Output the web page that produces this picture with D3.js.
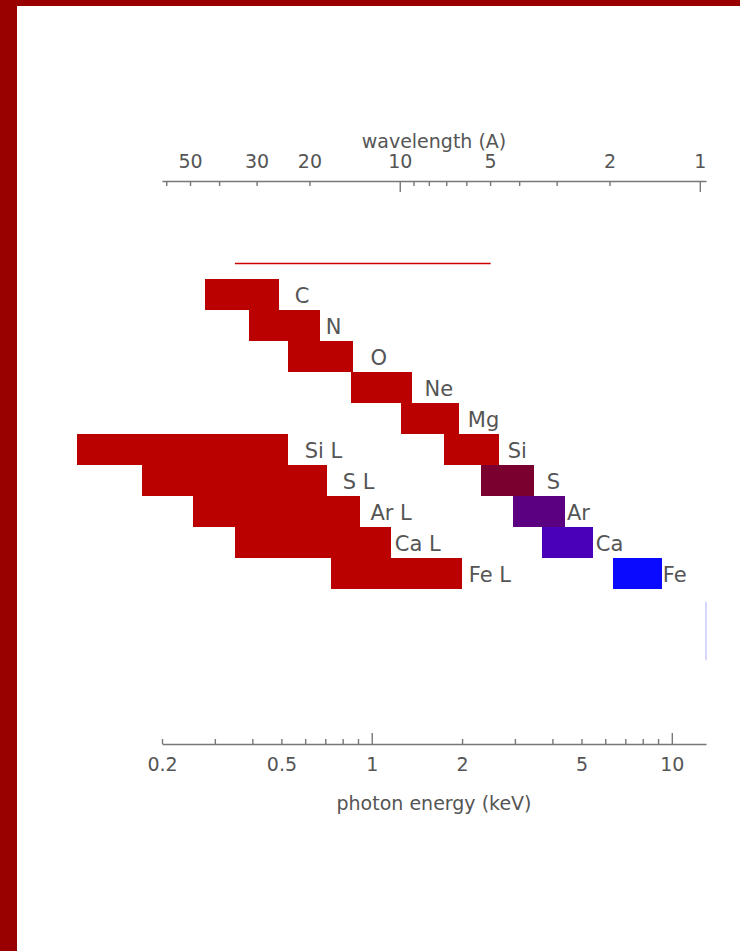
<!DOCTYPE html>
<html>
<head>
<meta charset="utf-8">
<script src="https://cdn.jsdelivr.net/npm/d3@7"></script>
<style>
  html, body { margin: 0; padding: 0; background: #fff; }
  svg { display: block; }
  text { font-family: "DejaVu Sans", sans-serif; fill: #555; }
</style>
</head>
<body>
<svg id="chart" width="740" height="951"></svg>
<script>
// K-shell lines (energy band in keV, one row each)
const kLines  = ['C', 'N', 'O', 'Ne', 'Mg', 'Si', 'S', 'Ar', 'Ca', 'Fe'];
const kRow    = [0, 1, 2, 3, 4, 5, 6, 7, 8, 9];
const kLow    = [0.278, 0.389, 0.525, 0.851, 1.25, 1.74, 2.31, 2.95, 3.69, 6.36];
const kHigh   = [0.490, 0.671, 0.864, 1.36, 1.95, 2.65, 3.47, 4.40, 5.45, 9.26];
const kLabelE = [0.554, 0.703, 0.99, 1.50, 2.09, 2.84, 3.83, 4.47, 5.58, 9.33];

// L-shell lines
const lLines  = ['Si L', 'S L', 'Ar L', 'Ca L', 'Fe L'];
const lRow    = [5, 6, 7, 8, 9];
const lLow    = [0.104, 0.171, 0.253, 0.350, 0.730];
const lHigh   = [0.525, 0.708, 0.912, 1.157, 1.995];
const lLabelE = [0.598, 0.80, 0.99, 1.193, 2.105];

// thin range line above the bars (keV)
const rangeLine = [0.35, 2.49];

// axes
const energyTicks  = [0.2, 0.3, 0.4, 0.5, 0.6, 0.7, 0.8, 0.9, 1, 2, 3, 4, 5, 6, 7, 8, 9, 10];
const energyLabels = [0.2, 0.5, 1, 2, 5, 10];
const energyMajor  = [1, 10];
const waveTicks  = [60, 50, 40, 30, 20, 10, 9, 8, 7, 6, 5, 4, 3, 2, 1];
const waveLabels = [50, 30, 20, 10, 5, 2, 1];
const waveMajor  = [10, 1];
const hc = 12.398; // keV * A

const redFill = '#bb0000';
const kFill = ['#bb0000', '#bb0000', '#bb0000', '#bb0000', '#bb0000',
               '#bb0000', '#7a0030', '#5a0080', '#4a00b8', '#0a0aff'];

var svg = d3.select('#chart');

// frame
svg.append('rect').attr('x', 0).attr('y', 0).attr('width', 740).attr('height', 6).attr('fill', '#990000');
svg.append('rect').attr('x', 0).attr('y', 0).attr('width', 17).attr('height', 951).attr('fill', '#990000');

var xScale = d3.scaleLog([0.2, 13], [162, 706]);
var yScale = d3.scaleLinear([0, 10], [279, 589]);

var rowTop = function(r) { return yScale(r); },
    rowH = function(r) { return yScale(r + 1) - yScale(r); };

var kData = kLines.map(function(n, i) {
  return { name: n, row: kRow[i], lo: kLow[i], hi: kHigh[i], lab: kLabelE[i], fill: kFill[i] };
});
var lData = lLines.map(function(n, i) {
  return { name: n, row: lRow[i], lo: lLow[i], hi: lHigh[i], lab: lLabelE[i], fill: redFill };
});
var all = lData.concat(kData);

svg.append('g')
    .selectAll('rect')
    .data(all)
    .enter()
    .append('rect')
    .attr('x', function(d) { return xScale(d.lo); })
    .attr('width', function(d) { return xScale(d.hi) - xScale(d.lo); })
    .attr('y', function(d) { return rowTop(d.row); })
    .attr('height', function(d) { return rowH(d.row); })
    .attr('fill', function(d) { return d.fill; })
    .attr('shape-rendering', 'crispEdges');

svg.append('g')
    .selectAll('text')
    .data(all)
    .enter()
    .append('text')
    .attr('x', function(d) { return xScale(d.lab); })
    .attr('y', function(d) { return rowTop(d.row) + rowH(d.row) / 2 + 1; })
    .attr('dy', '0.35em')
    .style('font-size', '21px')
    .text(function(d) { return d.name; });

svg.append('line')
    .attr('x1', xScale(rangeLine[0]))
    .attr('x2', xScale(rangeLine[1]))
    .attr('y1', yScale(-0.5))
    .attr('y2', yScale(-0.5))
    .attr('stroke', '#cc0000')
    .attr('stroke-width', 1.5);

// faint mark at the right edge
svg.append('line')
    .attr('x1', xScale.range()[1])
    .attr('x2', xScale.range()[1])
    .attr('y1', yScale(10.42))
    .attr('y2', yScale(12.3))
    .attr('stroke', '#c8c8ff')
    .attr('stroke-width', 1.5);

var styleTicks = function(g, isMajor) {
  g.select('.domain').attr('stroke', '#777').attr('stroke-width', 1.6);
  g.selectAll('.tick line')
      .attr('stroke', '#777')
      .attr('stroke-width', 1.4)
      .attr('y2', isMajor);
  g.selectAll('.tick text')
      .style('font-size', '19px')
      .attr('fill', '#555')
      .style('font-family', '"DejaVu Sans", sans-serif');
};

// bottom axis: photon energy
var bottomAxis = svg.append('g')
    .attr('transform', 'translate(0,744)')
    .call(d3.axisBottom(xScale)
              .tickValues(energyTicks)
              .tickSizeOuter(0)
              .tickSizeInner(-5)
              .tickPadding(14)
              .tickFormat(function(d) { return energyLabels.indexOf(d) >= 0 ? d3.format('')(d) : ''; }));
styleTicks(bottomAxis, function(d) { return energyMajor.indexOf(d) >= 0 ? -11 : -5; });

// top axis: wavelength
var waveE = waveTicks.map(function(w) { return hc / w; });
var topAxis = svg.append('g')
    .attr('transform', 'translate(0,181)')
    .call(d3.axisTop(xScale)
              .tickValues(waveE)
              .tickSizeOuter(0)
              .tickSizeInner(-5)
              .tickPadding(13)
              .tickFormat(function(e) {
                var w = Math.round(hc / e);
                return waveLabels.indexOf(w) >= 0 ? String(w) : '';
              }));
styleTicks(topAxis, function(e) { return waveMajor.indexOf(Math.round(hc / e)) >= 0 ? 11 : 5; });

var mid = (xScale.range()[0] + xScale.range()[1]) / 2;
svg.append('text')
    .attr('x', mid)
    .attr('y', 148)
    .attr('text-anchor', 'middle')
    .style('font-size', '19px')
    .text('wavelength (A)');
svg.append('text')
    .attr('x', mid)
    .attr('y', 810)
    .attr('text-anchor', 'middle')
    .style('font-size', '19px')
    .text('photon energy (keV)');
</script>
</body>
</html>
